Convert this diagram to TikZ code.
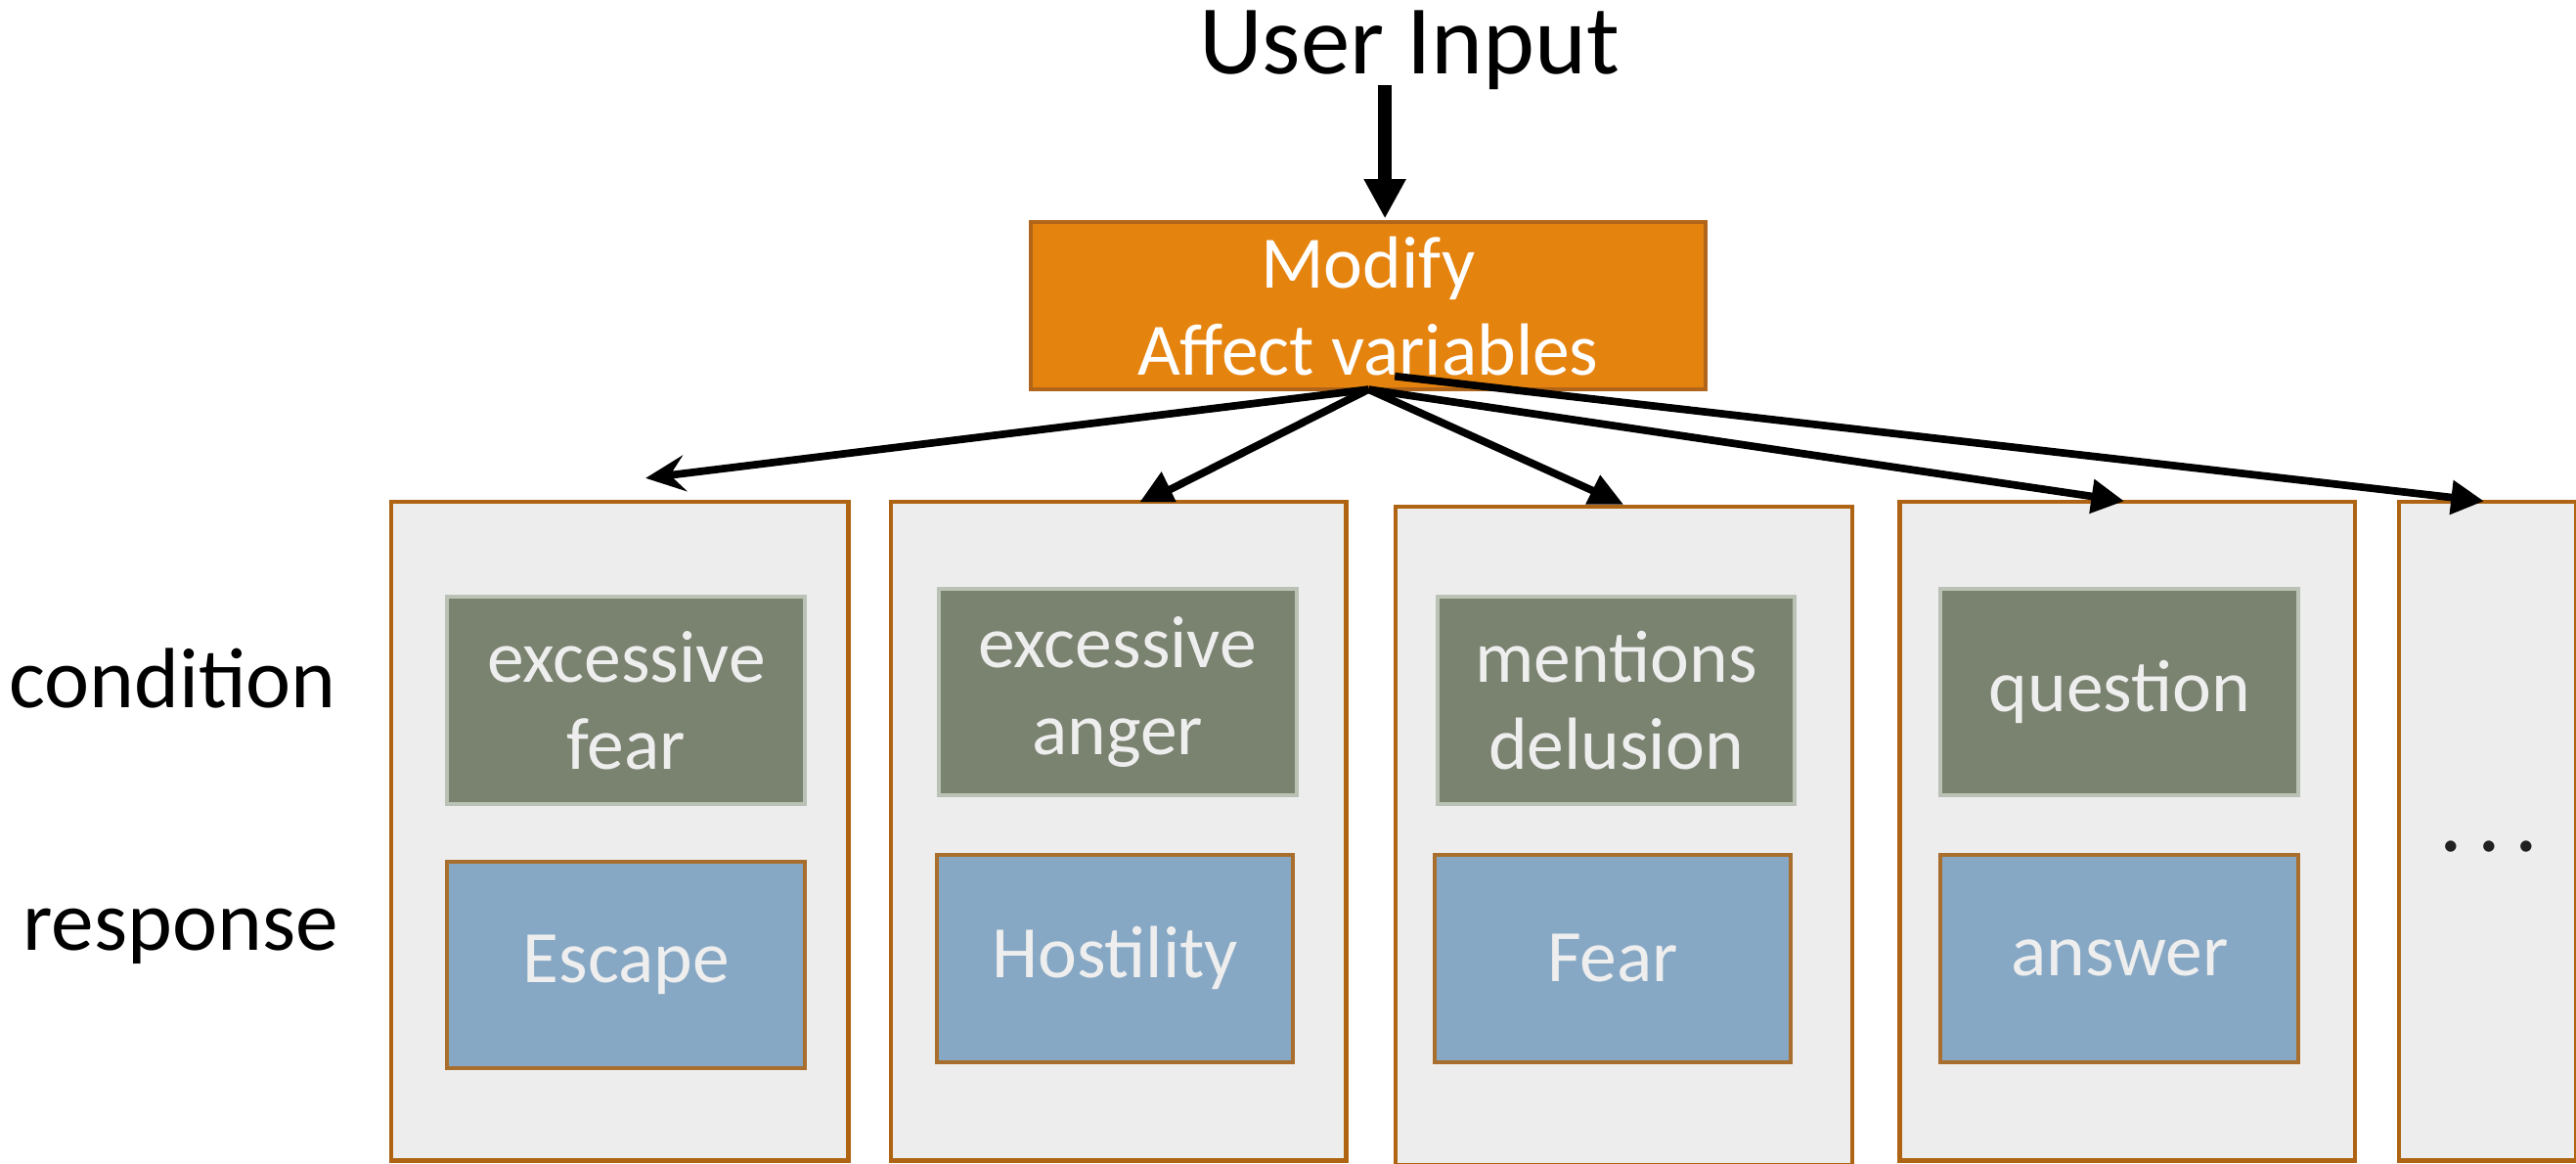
\documentclass[tikz,border=0pt]{standalone}
\usepackage{fontspec}
\setmainfont{Carlito}
\usetikzlibrary{arrows.meta}
\definecolor{orangefill}{HTML}{E5830F}
\definecolor{orangeedge}{HTML}{B0651A}
\definecolor{panelfill}{HTML}{EDEDED}
\definecolor{paneledge}{HTML}{AE6412}
\definecolor{condfill}{HTML}{7A8270}
\definecolor{condedge}{HTML}{BAC1B5}
\definecolor{respfill}{HTML}{87A8C4}
\definecolor{respedge}{HTML}{A86E2E}
\definecolor{boxtext}{HTML}{EEEEEE}
\tikzset{
  panel/.style={draw=paneledge, fill=panelfill, line width=2.6pt, anchor=north west,
    minimum width=278pt, minimum height=401pt, inner sep=0pt},
  cond/.style={draw=condedge, fill=condfill, line width=2.4pt, anchor=north west,
    minimum width=218pt, minimum height=126pt, inner sep=0pt, align=center,
    text=boxtext, font=\fontsize{45}{53}\selectfont},
  resp/.style={draw=respedge, fill=respfill, line width=2.4pt, anchor=north west,
    minimum width=218pt, minimum height=126pt, inner sep=0pt, align=center,
    text=boxtext, font=\fontsize{45}{53}\selectfont},
  modbox/.style={draw=orangeedge, fill=orangefill, line width=2.4pt, anchor=north west,
    minimum width=411pt, minimum height=102pt, inner sep=0pt, align=center,
    text=white, font=\fontsize{45}{53}\selectfont},
  sidelabel/.style={anchor=east, inner sep=0pt, font=\fontsize{52}{60}\selectfont},
  link/.style={line width=4.6pt},
  stealtharr/.style={link, -{Stealth[length=24pt,width=22pt,inset=9pt]}},
  triarr/.style={link, -{Triangle[length=20pt,width=20pt]}},
  tiphead/.style={fill=black},
  bigarr/.style={-{Triangle[length=24pt,width=24pt]}, line width=8pt}
}
\begin{document}
\begin{tikzpicture}[x=1pt,y=-1pt]
\useasboundingbox (0,0) rectangle (1568,708);

% top
\node[inner sep=0pt, anchor=base, font=\fontsize{60}{70}\selectfont] (ui) at (858,45) {User Input};
\node[modbox] (mod) at (626,134) {Modify\\Affect variables};
\coordinate (uiS) at (843,52);
\coordinate (modN) at (843,133);
\draw[bigarr] (uiS) -- (modN);

% panels
\node[panel] (p1) at (237,304) {};
\node[panel, minimum width=277pt] (p2) at (541,304) {};
\node[panel] (p3) at (848,307) {};
\node[panel, minimum width=277pt] (p4) at (1155,304) {};
\node[panel, minimum width=108pt] (p5) at (1459,304) {};

% condition boxes
\node[cond] (c1) at (271,362) {excessive\\fear};
\node[cond] (c2) at (570,357) {excessive\\anger};
\node[cond, minimum width=217pt] (c3) at (874,362) {mentions\\delusion};
\node[cond] (c4) at (1180,357) {question};

% response boxes
\node[resp] (r1) at (271,523) {Escape};
\node[resp, minimum width=217pt] (r2) at (569,519) {Hostility};
\node[resp, minimum width=217pt] (r3) at (872,519) {Fear};
\node[resp] (r4) at (1180,519) {answer};

% dots
\node[inner sep=0pt, anchor=base, text=black!87, font=\fontsize{56}{60}\selectfont] (dots) at (1515,518) {.\hspace{9pt}.\hspace{9pt}.};

% side labels
\node[sidelabel] (lc) at (205,413) {condition};
\node[sidelabel] (lr) at (206,570) {response};

% arrows
\coordinate (src) at (833,237);
\coordinate (srcE) at (849,229);
\coordinate (tA) at (393,291);
\coordinate (tB) at (710,299);
\coordinate (tC) at (977,302);
\coordinate (tD) at (1293,305);
\coordinate (tE) at (1512,305);
\draw[stealtharr] (src) -- (tA);
\draw[link] (src) -- (tB);
\fill[tiphead] (707,287) -- (694,305.5) -- (716,305.5) -- cycle;
\draw[link] (src) -- (tC);
\fill[tiphead] (974,289) -- (965,307) -- (988,307) -- cycle;
\draw[triarr] (src) -- (tD);
\draw[triarr] (srcE) -- (tE);
\end{tikzpicture}
\end{document}
